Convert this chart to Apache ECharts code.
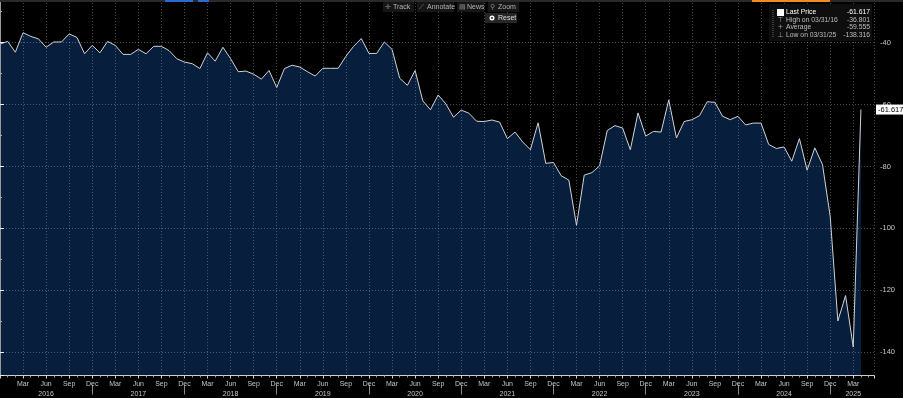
<!DOCTYPE html>
<html><head><meta charset="utf-8">
<script src="https://cdn.jsdelivr.net/npm/echarts@6/dist/echarts.min.js"></script>
<style>html,body{margin:0;padding:0;background:#000;overflow:hidden;}#c{width:903px;height:398px;}</style>
</head><body><div id="c"></div>
<script>
// Monthly series, month-end values, first point = Dec 2015
const firstMonth = { year: 2015, month: 12 };
const values = [
  -40.5,
  -39.6, -43.1, -36.801, -38.0, -38.8, -41.5, -39.8, -39.8, -37.2, -38.3, -43.6, -40.9,
  -43.3, -39.6, -40.9, -43.8, -43.8, -42.2, -43.6, -41.2, -41.2, -42.6, -45.2, -46.3,
  -46.8, -48.4, -43.3, -46.0, -41.5, -45.2, -49.4, -49.2, -50.2, -51.8, -49.0, -54.5,
  -48.4, -47.3, -47.9, -49.4, -50.8, -48.3, -48.3, -48.3, -44.4, -41.2, -38.7, -43.5,
  -43.5, -39.8, -42.2, -51.5, -53.8, -49.0, -58.8, -61.7, -56.9, -59.8, -64.1, -61.8,
  -62.8, -65.4, -65.5, -65.0, -65.7, -71.0, -68.9, -72.1, -74.6, -65.9, -79.0, -78.7,
  -83.0, -84.4, -99.0, -82.8, -82.0, -79.8, -68.4, -66.8, -67.6, -74.6, -62.7, -70.2,
  -68.7, -68.9, -58.5, -70.8, -65.5, -64.9, -63.6, -59.1, -59.3, -63.8, -64.9, -63.8,
  -66.6, -66.0, -66.0, -72.9, -74.2, -73.7, -78.3, -71.0, -81.2, -74.0, -79.4, -96.1,
  -129.9, -121.7, -138.316, -61.617
];
const quarterTickLabels = ['Dec', 'Mar', 'Jun', 'Sep'];
const lastPrice = -61.617;
const legendRows = [
  ['Last Price', '-61.617'],
  ['High on 03/31/16', '-36.801'],
  ['Average', '-59.555'],
  ['Low on 03/31/25', '-138.316']
];
const legendIcons = ['■', '⊤', '+', '⊥'];
const toolbarItems = [['✛', 'Track'], ['⟋', 'Annotate'], ['▤', 'News'], ['⚲', 'Zoom']];
const resetLabel = 'Reset';

const seriesData = values.map((v, i) => [i, v]);
const FONT = 'Liberation Sans, Arial, sans-serif';

function yearOf(j) { return firstMonth.year + Math.floor((j + firstMonth.month - 1) / 12); }

const chart = echarts.init(document.getElementById('c'), null, { renderer: 'canvas' });

const graphics = [];
// top strip
graphics.push({ type: 'rect', shape: { x: 0, y: 0, width: 903, height: 2 }, style: { fill: '#2a2a2a' }, z: 10 });
graphics.push({ type: 'rect', shape: { x: 165, y: 0, width: 28, height: 2 }, style: { fill: '#2a6bd1' }, z: 11 });
graphics.push({ type: 'rect', shape: { x: 198, y: 0, width: 11, height: 2 }, style: { fill: '#2a6bd1' }, z: 11 });
graphics.push({ type: 'rect', shape: { x: 752, y: 0, width: 78, height: 2 }, style: { fill: '#f08c1e' }, z: 11 });
// toolbar
const tbX = [383, 417, 457, 488];
const tbW = [31, 37, 27, 31];
toolbarItems.forEach((it, k) => {
  graphics.push({ type: 'rect', shape: { x: tbX[k], y: 2, width: tbW[k], height: 10 }, style: { fill: '#161616' }, z: 10 });
  graphics.push({ type: 'text', x: tbX[k] + 2, y: 7, style: { text: it[0], fill: '#888', font: '7px DejaVu Sans', verticalAlign: 'middle' }, z: 11 });
  graphics.push({ type: 'text', x: tbX[k] + 10, y: 7, style: { text: it[1], fill: '#b5b5b5', font: '7px ' + FONT, verticalAlign: 'middle' }, z: 11 });
});
graphics.push({ type: 'rect', shape: { x: 485, y: 13, width: 32, height: 10 }, style: { fill: '#262626' }, z: 10 });
graphics.push({ type: 'circle', shape: { cx: 492, cy: 18, r: 2.5 }, style: { fill: '#fff' }, z: 11 });
graphics.push({ type: 'circle', shape: { cx: 492, cy: 18, r: 1 }, style: { fill: '#262626' }, z: 12 });
graphics.push({ type: 'text', x: 498, y: 18, style: { text: resetLabel, fill: '#ddd', font: '7px ' + FONT, verticalAlign: 'middle' }, z: 11 });
// legend box
graphics.push({ type: 'rect', shape: { x: 769, y: 4, width: 103, height: 37 }, style: { fill: '#0e0e0e' }, z: 10 });
graphics.push({ type: 'line', shape: { x1: 773, y1: 10, x2: 773, y2: 37 }, style: { stroke: '#666', lineDash: [1, 1], lineWidth: 1 }, z: 11 });
legendRows.forEach((r, k) => {
  const y = 12.5 + k * 7.4;
  const col = k === 0 ? '#ffffff' : '#bdbdbd';
  if (k === 0) {
    graphics.push({ type: 'rect', shape: { x: 777, y: y - 3.5, width: 7, height: 7 }, style: { fill: '#fff' }, z: 11 });
  } else {
    graphics.push({ type: 'text', x: 780.5, y: y, style: { text: legendIcons[k], fill: '#999', font: '7px DejaVu Sans', align: 'center', verticalAlign: 'middle' }, z: 11 });
  }
  graphics.push({ type: 'text', x: 786, y: y, style: { text: r[0], fill: col, font: '6.8px ' + FONT, verticalAlign: 'middle' }, z: 11 });
  graphics.push({ type: 'text', x: 870, y: y, style: { text: r[1], fill: col, font: '6.8px ' + FONT, align: 'right', verticalAlign: 'middle' }, z: 11 });
});

const xMax = 113.7;
const option = {
  backgroundColor: '#000000',
  animation: false,
  grid: { left: -1.4, right: 29, top: 0, bottom: 19, containLabel: false },
  xAxis: [
    {
      type: 'value', min: 0, max: xMax, interval: 3, position: 'bottom', z: 3,
      axisLine: { show: true, lineStyle: { color: '#cfcfcf', width: 1 } },
      axisTick: { show: true, length: 3, lineStyle: { color: '#cfcfcf' } },
      minorTick: { show: true, splitNumber: 3, length: 2, lineStyle: { color: '#999' } },
      splitLine: { show: true, lineStyle: { color: 'rgba(190,190,190,0.38)', type: [1, 2], width: 1 } },
      axisLabel: {
        show: true, margin: 4, color: '#c4c4c4', fontSize: 7, fontFamily: FONT,
        showMinLabel: false, showMaxLabel: false, hideOverlap: false,
        formatter: function (v) {
          if (Math.abs(v - Math.round(v)) > 1e-6) return '';
          const j = Math.round(v);
          if (j <= 0 || j % 3 !== 0 || j >= values.length + 1) return '';
          const m = quarterTickLabels[(j / 3) % 4];
          const y = yearOf(j);
          const lastYear = yearOf(values.length - 1);
          if (m === 'Jun' || (y === lastYear && m === 'Mar' && j + 3 > values.length - 1)) {
            return '{m|' + m + '}\n{y|' + y + '}';
          }
          return '{m|' + m + '}';
        },
        rich: {
          m: { fontSize: 7, color: '#c4c4c4', fontFamily: FONT, lineHeight: 10 },
          y: { fontSize: 7, color: '#c4c4c4', fontFamily: FONT, lineHeight: 10 }
        }
      }
    },
    {
      type: 'value', min: 0, max: xMax, interval: 12, position: 'bottom', offset: 9, z: 3,
      axisLine: { show: false },
      axisTick: { show: true, length: 10, lineStyle: { color: '#8a8a8a' }, customValues: [12, 24, 36, 48, 60, 72, 84, 96, 108] },
      axisLabel: { show: false },
      splitLine: { show: false }
    }
  ],
  yAxis: {
    type: 'value', position: 'right', min: -147.52, max: -26.24, splitNumber: 6, z: 3,
    axisLine: { show: true, lineStyle: { color: '#9a9a9a', width: 1 } },
    axisTick: { show: true, length: 4, lineStyle: { color: '#eeeeee' } },
    minorTick: { show: true, splitNumber: 2, length: 2, lineStyle: { color: '#aaa' } },
    splitLine: { show: true, lineStyle: { color: 'rgba(190,190,190,0.38)', type: [1, 2], width: 1 } },
    axisLabel: {
      show: true, margin: 6, color: '#c8c8c8', fontSize: 7.5, fontFamily: FONT,
      showMinLabel: false, showMaxLabel: false,
      formatter: function (v) { return Math.abs(v - Math.round(v)) < 1e-6 ? String(Math.round(v)) : ''; }
    }
  },
  series: [
    {
      type: 'line', data: seriesData, xAxisIndex: 0, yAxisIndex: 0, z: 2,
      showSymbol: false, symbol: 'none', clip: true,
      lineStyle: { color: '#cfd3d8', width: 1 },
      areaStyle: { origin: 'start', color: '#071f3d', opacity: 1 }
    },
    {
      type: 'line', data: seriesData, xAxisIndex: 0, yAxisIndex: 0, z: 5, zlevel: 1,
      showSymbol: false, symbol: 'none', lineStyle: { width: 0, color: 'rgba(0,0,0,0)' }, silent: true, clip: false,
      markLine: {
        silent: true, symbol: ['none', 'circle'], symbolSize: 3,
        lineStyle: { width: 1, color: 'rgba(0,0,0,0)', type: 'solid' },
        data: [{ yAxis: lastPrice }],
        label: {
          show: true, position: 'end', distance: 2, formatter: String(lastPrice),
          color: '#000', backgroundColor: '#ffffff', fontSize: 7.5, fontFamily: FONT,
          padding: [1, 2, 1, 2]
        }
      }
    }
  ],
  graphic: graphics
};
chart.setOption(option);
</script>
</body></html>
